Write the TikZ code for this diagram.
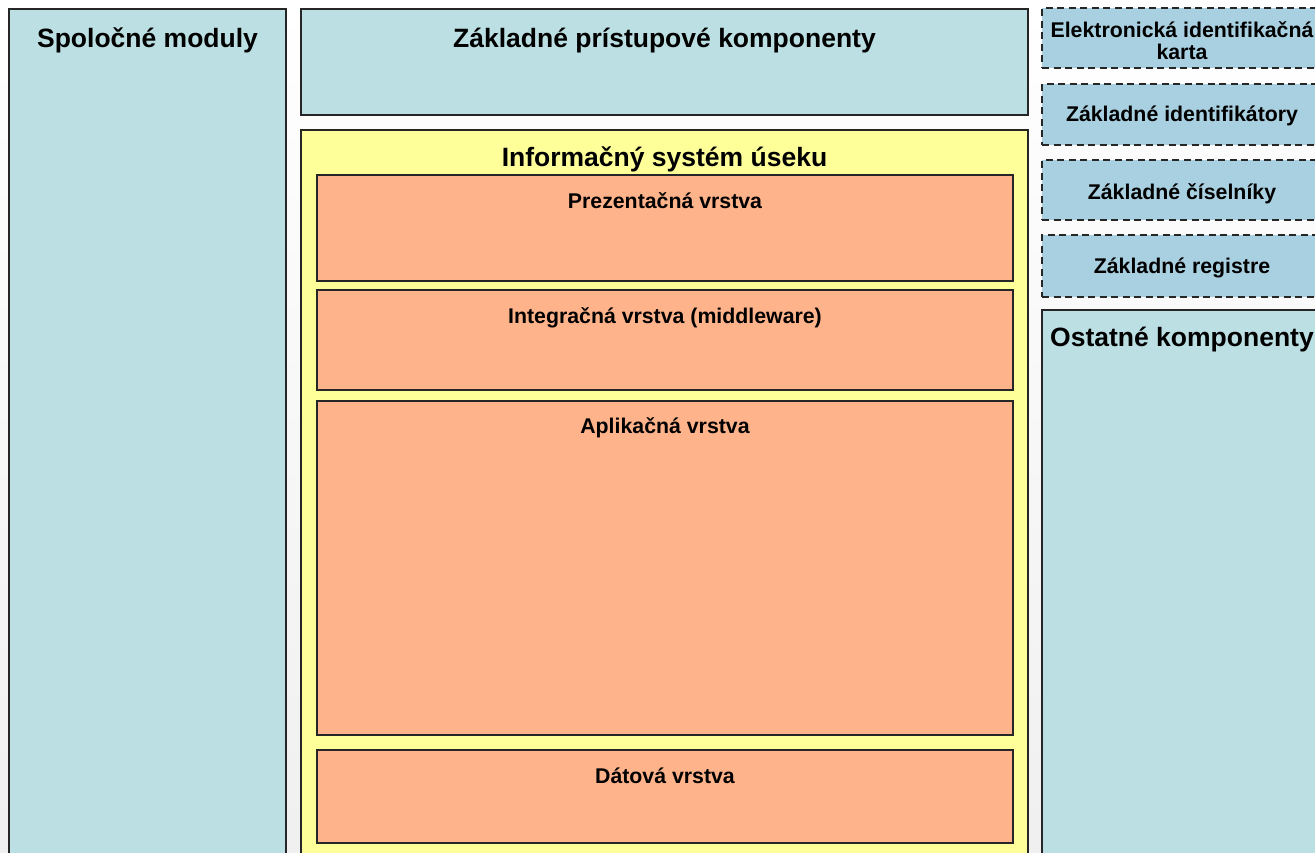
\documentclass[tikz,border=0pt]{standalone}
\usepackage{fontspec}
\setmainfont{Liberation Sans}
\usepackage{tikz}
\usetikzlibrary{positioning}
\definecolor{modra}{HTML}{BBDFE2}
\definecolor{zakladna}{HTML}{A9D0E0}
\definecolor{zlta}{HTML}{FFFF99}
\definecolor{losos}{HTML}{FFB38B}

\begin{document}
\begin{tikzpicture}[x=1pt,y=-1pt,line join=miter]
  \tikzstyle{modul}=[rectangle,draw=black!85,line width=1.8pt,fill=modra,inner sep=0pt]
  \tikzstyle{usek}=[modul,fill=zlta]
  \tikzstyle{vrstva}=[modul,fill=losos]
  \tikzstyle{zaklad}=[rectangle,draw=black!85,line width=1.6pt,dash pattern=on 7pt off 4.5pt,
                      fill=zakladna,inner sep=0pt,minimum width=280pt]
  \tikzstyle{nadpis}=[inner sep=0pt,font=\fontsize{26.5}{30}\selectfont\bfseries]
  \tikzstyle{popis}=[inner sep=0pt,font=\fontsize{21.3}{22}\selectfont\bfseries,align=center]

  \clip (0,0) rectangle (1315,852);
  \shade[top color=white,bottom color=gray!12] (0,0) rectangle (1315,852);

  % stlpce
  \node[modul,minimum width=277pt,minimum height=861pt] (spol) at (147.5,439.5) {};
  \node[modul,minimum width=727pt,minimum height=106pt] (zpk) at (664.5,62) {};
  \node[usek,minimum width=727pt,minimum height=740pt] (isu) at (664.5,500) {};
  \node[modul,minimum width=280pt,minimum height=560pt] (ost) at (1182,590) {};

  % vrstvy
  \node[vrstva,minimum width=696pt,minimum height=106pt] (prez) at (665,228) {};
  \node[vrstva,minimum width=696pt,minimum height=100pt] (integ) at (665,340) {};
  \node[vrstva,minimum width=696pt,minimum height=334pt] (aplik) at (665,568) {};
  \node[vrstva,minimum width=696pt,minimum height=93pt] (dat) at (665,796.5) {};

  % zakladne komponenty
  \node[zaklad,minimum height=60pt] (eik) at (1182,38) {};
  \node[zaklad,minimum height=61pt] (zid) at (1182,114.5) {};
  \node[zaklad,minimum height=60pt] (zcis) at (1182,190) {};
  \node[zaklad,minimum height=62pt] (zreg) at (1182,266) {};

  % texty
  \node[nadpis] (spolT) at ([yshift=-32pt]spol.north) {Spoločné moduly};
  \node[nadpis] (zpkT) at ([yshift=-32pt]zpk.north) {Základné prístupové komponenty};
  \node[nadpis] (isuT) at ([yshift=-30pt]isu.north) {Informačný systém úseku};
  \node[nadpis] (ostT) at ([yshift=-30pt]ost.north) {Ostatné komponenty};
  \node[popis] (prezT) at ([yshift=-27pt]prez.north) {Prezentačná vrstva};
  \node[popis] (integT) at ([yshift=-29pt]integ.north) {Integračná vrstva (middleware)};
  \node[popis] (aplikT) at ([yshift=-28pt]aplik.north) {Aplikačná vrstva};
  \node[popis] (datT) at ([yshift=-27pt]dat.north) {Dátová vrstva};
  \node[popis] (eikT) at ([yshift=-3pt]eik.center) {Elektronická identifikačná\\karta};
  \node[popis] (zidT) at ([yshift=-1.5pt]zid.center) {Základné identifikátory};
  \node[popis] (zcisT) at ([yshift=-4pt]zcis.center) {Základné číselníky};
  \node[popis] (zregT) at ([yshift=-2pt]zreg.center) {Základné registre};
\end{tikzpicture}
\end{document}
